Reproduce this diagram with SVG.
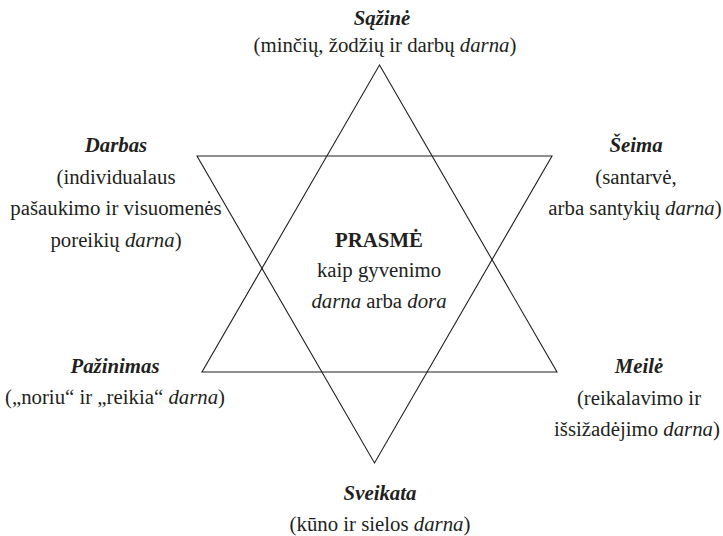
<svg xmlns="http://www.w3.org/2000/svg" width="723" height="536" viewBox="0 0 723 536">
<style>
text{font-family:"Liberation Serif","Times New Roman",serif;font-size:20.8px;fill:#231f20;text-anchor:middle}
.t{font-weight:bold;font-style:italic}
.b{font-weight:bold}
.i{font-style:italic}
.star{fill:none;stroke:#231f20;stroke-width:1.1}
</style>
<rect width="723" height="536" fill="#fff"/>
<g id="star">
<polygon class="star" points="379.5,65 557,372 202,372"/>
<polygon class="star" points="197,156 552,156 374.5,463"/>
</g>
<g id="sazine">
<text x="382" y="25" class="t">Sąžinė</text>
<text x="385" y="52">(minčių, žodžių ir darbų <tspan class="i">darna</tspan>)</text>
</g>
<g id="darbas">
<text x="116" y="152" class="t">Darbas</text>
<text x="116" y="183.5">(individualaus</text>
<text x="116" y="215">pašaukimo ir visuomenės</text>
<text x="116" y="246.5">poreikių <tspan class="i">darna</tspan>)</text>
</g>
<g id="seima">
<text x="636" y="152" class="t">Šeima</text>
<text x="636" y="183.5">(santarvė,</text>
<text x="635" y="215">arba santykių <tspan class="i">darna</tspan>)</text>
</g>
<g id="prasme">
<text x="379" y="247" class="b">PRASMĖ</text>
<text x="379" y="277">kaip gyvenimo</text>
<text x="379" y="308"><tspan class="i">darna</tspan> arba <tspan class="i">dora</tspan></text>
</g>
<g id="pazinimas">
<text x="115" y="373" class="t">Pažinimas</text>
<text x="115" y="404">(„noriu“ ir „reikia“ <tspan class="i">darna</tspan>)</text>
</g>
<g id="meile">
<text x="639" y="373" class="t">Meilė</text>
<text x="639" y="405">(reikalavimo ir</text>
<text x="637" y="436">išsižadėjimo <tspan class="i">darna</tspan>)</text>
</g>
<g id="sveikata">
<text x="380" y="500" class="t">Sveikata</text>
<text x="380" y="531">(kūno ir sielos <tspan class="i">darna</tspan>)</text>
</g>
</svg>
